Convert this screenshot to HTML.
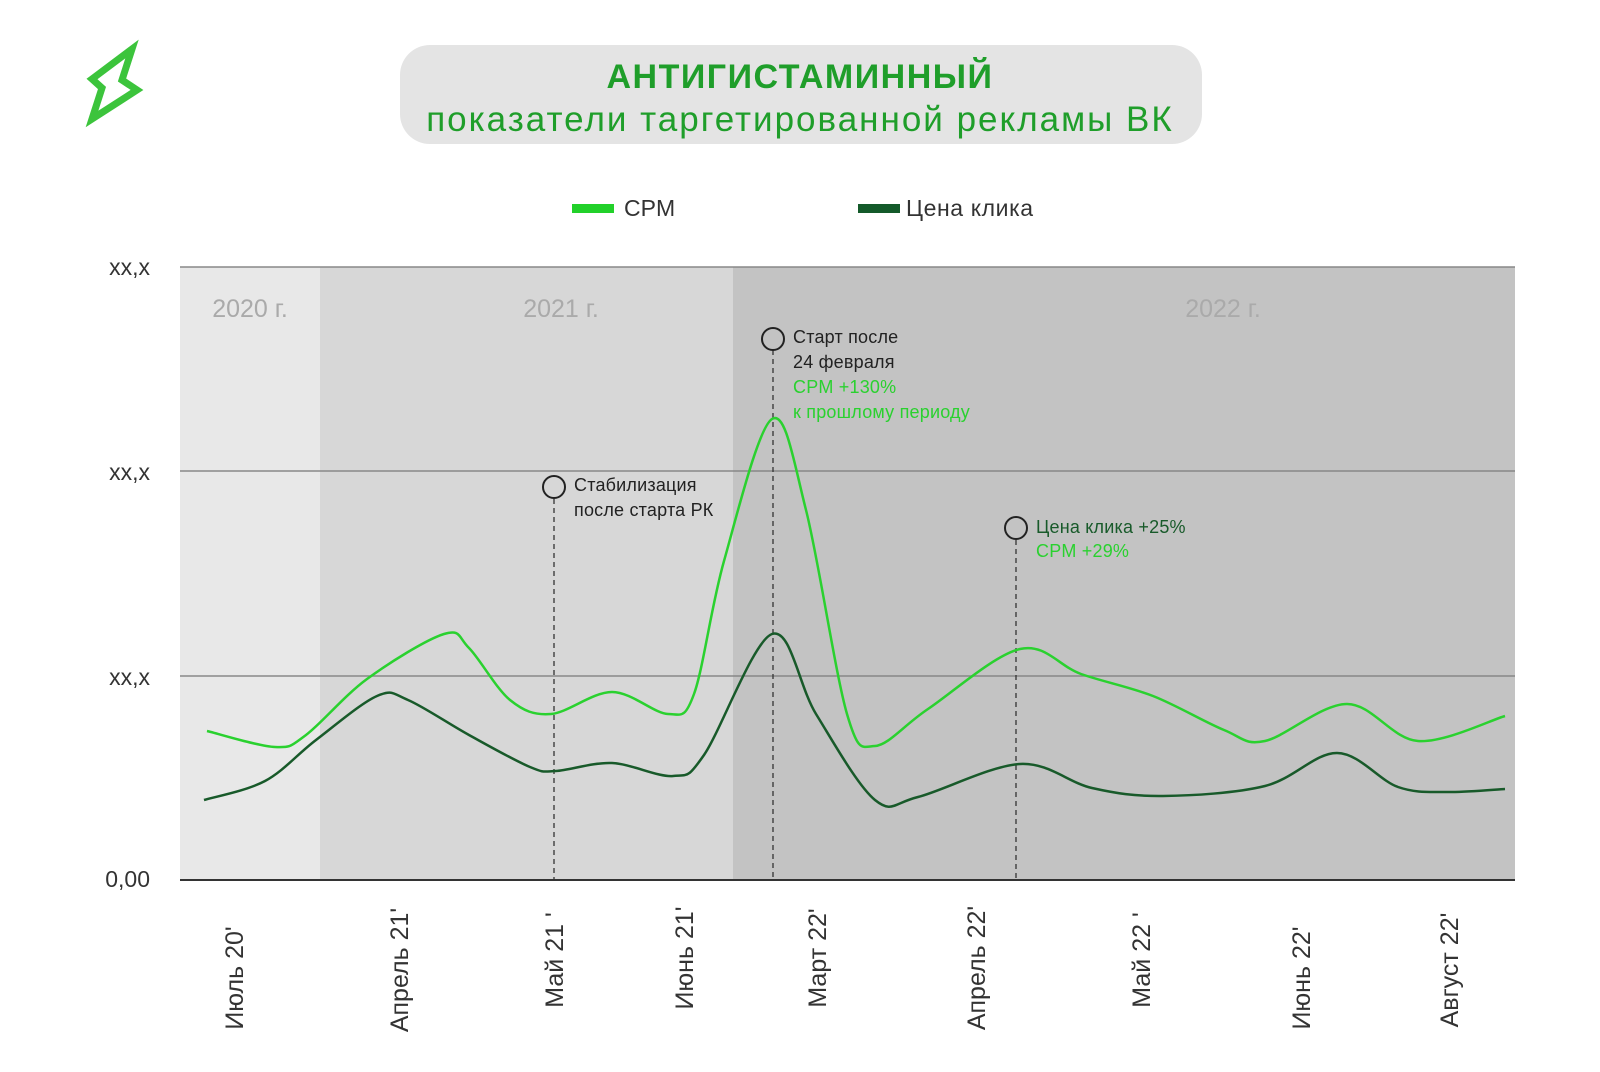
<!DOCTYPE html>
<html><head><meta charset="utf-8"><style>
body{margin:0;background:#fff;width:1600px;height:1067px;overflow:hidden;font-family:"Liberation Sans",sans-serif}
</style></head><body>
<svg width="1600" height="1067" xmlns="http://www.w3.org/2000/svg" font-family="Liberation Sans, sans-serif">
<rect width="1600" height="1067" fill="#fff"/>
<polygon points="92,79 132,49 122,80 137,90 92,119 102,88" fill="none" stroke="#3cc43c" stroke-width="7" stroke-linejoin="miter"/>
<rect x="400" y="45" width="802" height="99" rx="30" fill="#e4e4e4"/>
<text x="800" y="88" text-anchor="middle" font-size="34" font-weight="bold" fill="#1f9e2a" letter-spacing="1.5">АНТИГИСТАМИННЫЙ</text>
<text x="800" y="131" text-anchor="middle" font-size="35" fill="#1f9e2a" letter-spacing="2">показатели таргетированной рекламы ВК</text>
<rect x="572" y="204" width="42" height="9" fill="#22d12a"/>
<text x="624" y="216" font-size="23" fill="#333">CPM</text>
<rect x="858" y="204" width="42" height="9" fill="#145a2a"/>
<text x="906" y="216" font-size="23" fill="#333" letter-spacing="0.6">Цена клика</text>
<rect x="180" y="267" width="140" height="613" fill="#e8e8e8"/>
<rect x="320" y="267" width="413" height="613" fill="#d7d7d7"/>
<rect x="733" y="267" width="782" height="613" fill="#c3c3c3"/>
<g stroke="#888" stroke-width="1.5"><line x1="180" y1="267" x2="1515" y2="267"/><line x1="180" y1="471" x2="1515" y2="471"/><line x1="180" y1="676" x2="1515" y2="676"/></g>
<line x1="180" y1="880" x2="1515" y2="880" stroke="#333" stroke-width="2"/>
<g font-size="23" fill="#333" text-anchor="end"><text x="150" y="275">xx,x</text><text x="150" y="480">xx,x</text><text x="150" y="685">xx,x</text><text x="150" y="887">0,00</text></g>
<g font-size="25" fill="#aaa" text-anchor="middle"><text x="250" y="317">2020 г.</text><text x="561" y="317">2021 г.</text><text x="1223" y="317">2022 г.</text></g>
<g stroke="#333" stroke-width="1.3" stroke-dasharray="5,4"><line x1="554" y1="499" x2="554" y2="880"/><line x1="773" y1="350" x2="773" y2="880"/><line x1="1016" y1="540" x2="1016" y2="880"/></g>
<path id="cpm" fill="none" stroke="#2ad12f" stroke-width="2.5"/>
<path id="clk" fill="none" stroke="#185a2a" stroke-width="2.5"/>
<g fill="none" stroke="#222" stroke-width="2"><circle cx="554" cy="487" r="11"/><circle cx="773" cy="339" r="11"/><circle cx="1016" cy="528" r="11"/></g>
<g font-size="18" letter-spacing="0.2">
<text x="574" y="491" fill="#222">Стабилизация</text><text x="574" y="516" fill="#222">после старта РК</text>
<text x="793" y="343" fill="#222">Старт после</text><text x="793" y="368" fill="#222">24 февраля</text>
<text x="793" y="393" fill="#2ad12f">CPM +130%</text><text x="793" y="418" fill="#2ad12f">к прошлому периоду</text>
<text x="1036" y="533" fill="#185a2a">Цена клика +25%</text><text x="1036" y="557" fill="#2ad12f">CPM +29%</text>
</g>
<g font-size="25" fill="#333" text-anchor="middle">
<text transform="translate(243,978) rotate(-90)">Июль 20'</text>
<text transform="translate(408,970) rotate(-90)">Апрель 21'</text>
<text transform="translate(563,960) rotate(-90)">Май 21 '</text>
<text transform="translate(693,958) rotate(-90)">Июнь 21'</text>
<text transform="translate(826,958) rotate(-90)">Март 22'</text>
<text transform="translate(985,968) rotate(-90)">Апрель 22'</text>
<text transform="translate(1150,960) rotate(-90)">Май 22 '</text>
<text transform="translate(1310,978) rotate(-90)">Июнь 22'</text>
<text transform="translate(1458,970) rotate(-90)">Август 22'</text>
</g>
</svg>
<script>
function cr(p){let d="M"+p[0][0]+","+p[0][1];for(let i=0;i<p.length-1;i++){const a=p[Math.max(0,i-1)],b=p[i],c=p[i+1],e=p[Math.min(p.length-1,i+2)];d+=" C"+(b[0]+(c[0]-a[0])/6)+","+(b[1]+(c[1]-a[1])/6)+" "+(c[0]-(e[0]-b[0])/6)+","+(c[1]-(e[1]-b[1])/6)+" "+c[0]+","+c[1];}return d;}
const cpm=[[207,731],[275,747],[306,735],[367,679],[444,634],[469,648],[510,700],[551,714],[612,692],[668,714],[694,694],[724,561],[772,419],[806,510],[847,714],[875,746],[928,709],[1020,649],[1081,674],[1153,696],[1224,730],[1265,741],[1347,704],[1418,741],[1505,716]];
const clk=[[204,800],[265,781],[316,740],[377,696],[408,700],[469,735],[530,767],[556,771],[612,763],[673,776],[704,755],[772,634],[816,714],[875,800],[918,797],[1020,764],[1092,788],[1163,796],[1265,786],[1337,753],[1398,787],[1449,792],[1505,789]];
document.getElementById("cpm").setAttribute("d",cr(cpm));
document.getElementById("clk").setAttribute("d",cr(clk));
</script>
</body></html>
